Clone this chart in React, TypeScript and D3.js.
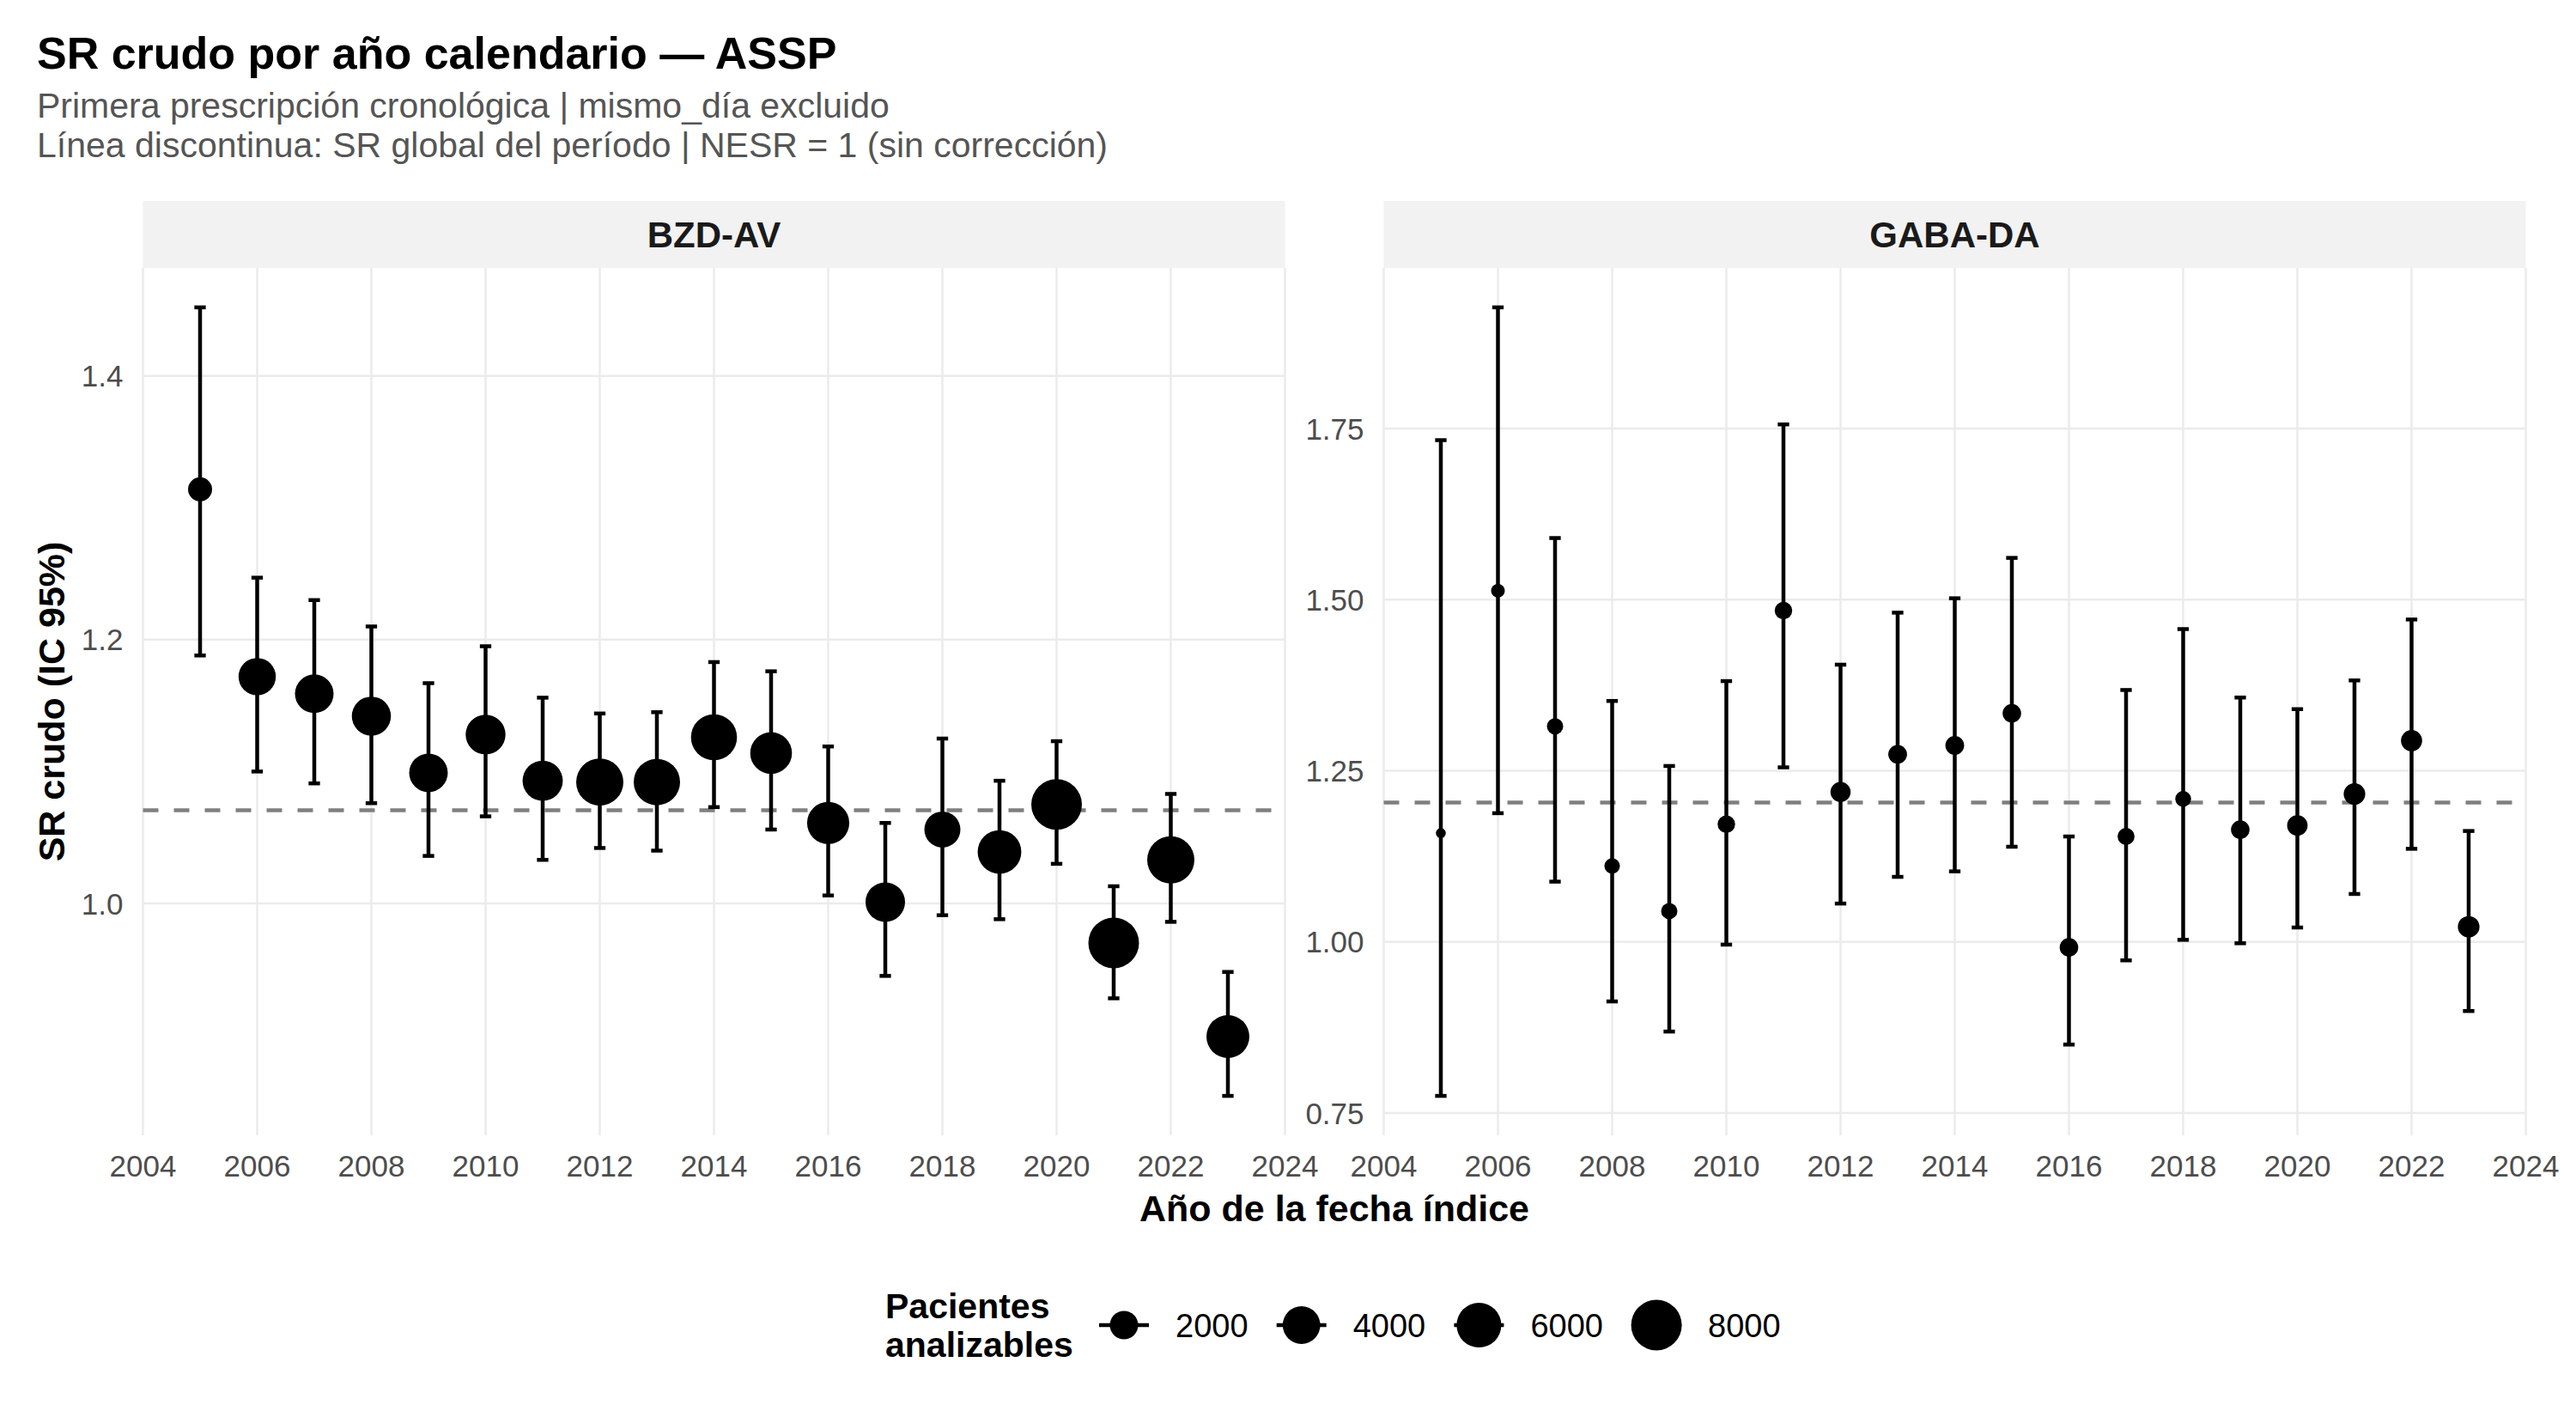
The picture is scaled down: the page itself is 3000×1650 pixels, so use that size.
import * as d3 from 'd3';
import React, { useEffect, useRef } from 'react';

// SR crudo por año
const years = [2005, 2006, 2007, 2008, 2009, 2010, 2011, 2012, 2013, 2014, 2015, 2016, 2017, 2018, 2019, 2020, 2021, 2022, 2023];

const bzdSr = [1.314, 1.172, 1.159, 1.142, 1.099, 1.128, 1.093, 1.092, 1.092, 1.126, 1.114, 1.061, 1.001, 1.056, 1.039, 1.075, 0.970, 1.033, 0.899];
const bzdLo = [1.188, 1.100, 1.091, 1.076, 1.036, 1.066, 1.033, 1.042, 1.040, 1.073, 1.056, 1.006, 0.945, 0.991, 0.988, 1.030, 0.928, 0.986, 0.854];
const bzdHi = [1.452, 1.247, 1.230, 1.210, 1.167, 1.195, 1.156, 1.144, 1.145, 1.183, 1.176, 1.119, 1.061, 1.125, 1.093, 1.123, 1.013, 1.083, 0.948];
const bzdN = [1300, 3920, 4270, 4390, 4270, 4590, 4690, 6810, 6530, 6420, 5120, 5250, 4500, 3620, 5680, 7990, 8000, 6800, 5470];

const gabaSr = [1.159, 1.513, 1.315, 1.111, 1.045, 1.172, 1.484, 1.219, 1.274, 1.287, 1.334, 0.992, 1.154, 1.209, 1.164, 1.170, 1.216, 1.294, 1.022];
const gabaLo = [0.775, 1.188, 1.088, 0.913, 0.869, 0.996, 1.255, 1.056, 1.095, 1.103, 1.139, 0.850, 0.973, 1.003, 0.998, 1.021, 1.070, 1.136, 0.899];
const gabaHi = [1.733, 1.927, 1.590, 1.352, 1.257, 1.381, 1.756, 1.405, 1.481, 1.502, 1.561, 1.154, 1.368, 1.457, 1.357, 1.340, 1.382, 1.471, 1.162];
const gabaN = [63, 240, 426, 358, 426, 531, 531, 795, 655, 655, 630, 630, 484, 385, 630, 835, 975, 920, 975];

const panelNames = ["BZD-AV", "GABA-DA"];
const globalSr = [1.0706, 1.2035];
const xTicks = [2004, 2006, 2008, 2010, 2012, 2014, 2016, 2018, 2020, 2022, 2024];
const bzdYTicks = [1.0, 1.2, 1.4];
const gabaYTicks = [0.75, 1.0, 1.25, 1.5, 1.75];
const legendValues = [2000, 4000, 6000, 8000];

const W = 3000;
const H = 1650;
const FONT = '"Liberation Sans", Arial, Helvetica, sans-serif';

const App = () => {
	const svgRef = useRef(null);

	useEffect(() => {
		const svg = d3.select(svgRef.current);
		svg.selectAll("*").remove();

		svg.append("rect").attr("width", W).attr("height", H).attr("fill", "#ffffff");

		const top = 312;
		const bottom = 1322;
		const stripTop = 234;
		const panelW = 1330;

		const panels = [
			{ name: panelNames[0], sr: bzdSr, lo: bzdLo, hi: bzdHi, n: bzdN, ref: globalSr[0], ticks: bzdYTicks, fmt: d3.format(".1f"), left: 166.5 },
			{ name: panelNames[1], sr: gabaSr, lo: gabaLo, hi: gabaHi, n: gabaN, ref: globalSr[1], ticks: gabaYTicks, fmt: d3.format(".2f"), left: 1611.5 },
		];

		const size = d3.scaleSqrt().domain([0, 8000]).range([3.5, 29.5]);

		panels.forEach((p) => {
			const x = d3.scaleLinear().domain([2004, 2024]).range([p.left, p.left + panelW]);
			const lo = d3.min(p.lo);
			const hi = d3.max(p.hi);
			const pad = (hi - lo) * 0.05;
			const y = d3.scaleLinear().domain([lo - pad, hi + pad]).range([bottom, top]);

			const g = svg.append("g");

			// strip
			g.append("rect")
				.attr("x", p.left)
				.attr("y", stripTop)
				.attr("width", panelW)
				.attr("height", top - stripTop)
				.attr("fill", "#F2F2F2");
			g.append("text")
				.attr("x", p.left + panelW / 2)
				.attr("y", 288)
				.attr("text-anchor", "middle")
				.style("font-family", FONT)
				.style("font-size", "42px")
				.style("font-weight", "bold")
				.style("fill", "#1A1A1A")
				.text(p.name);

			// grid
			g.selectAll(".gx")
				.data(xTicks)
				.join("line")
				.attr("x1", (d) => x(d))
				.attr("x2", (d) => x(d))
				.attr("y1", top)
				.attr("y2", bottom)
				.attr("stroke", "#EBEBEB")
				.attr("stroke-width", 2.5);
			g.selectAll(".gy")
				.data(p.ticks)
				.join("line")
				.attr("x1", p.left)
				.attr("x2", p.left + panelW)
				.attr("y1", (d) => y(d))
				.attr("y2", (d) => y(d))
				.attr("stroke", "#EBEBEB")
				.attr("stroke-width", 2.5);

			// axis labels
			g.selectAll(".tx")
				.data(xTicks)
				.join("text")
				.attr("x", (d) => x(d))
				.attr("y", 1370)
				.attr("text-anchor", "middle")
				.style("font-family", FONT)
				.style("font-size", "35px")
				.style("fill", "#4D4D4D")
				.text((d) => d);
			g.selectAll(".ty")
				.data(p.ticks)
				.join("text")
				.attr("x", p.left - 23)
				.attr("y", (d) => y(d))
				.attr("dy", "0.36em")
				.attr("text-anchor", "end")
				.style("font-family", FONT)
				.style("font-size", "35px")
				.style("fill", "#4D4D4D")
				.text((d) => p.fmt(d));

			// global SR
			g.append("line")
				.attr("x1", p.left)
				.attr("x2", p.left + panelW)
				.attr("y1", y(p.ref))
				.attr("y2", y(p.ref))
				.attr("stroke", "#7F7F7F")
				.attr("stroke-width", 4.5)
				.attr("stroke-dasharray", "18 18");

			const rows = years.map((yr, i) => ({ yr, sr: p.sr[i], lo: p.lo[i], hi: p.hi[i], n: p.n[i] }));
			const capW = x(2004.1) - x(2004);

			// error bars
			const bars = g.selectAll(".eb").data(rows).join("g");
			bars.append("line")
				.attr("x1", (d) => x(d.yr))
				.attr("x2", (d) => x(d.yr))
				.attr("y1", (d) => y(d.lo))
				.attr("y2", (d) => y(d.hi))
				.attr("stroke", "#000")
				.attr("stroke-width", 4.5);
			bars.append("line")
				.attr("x1", (d) => x(d.yr) - capW)
				.attr("x2", (d) => x(d.yr) + capW)
				.attr("y1", (d) => y(d.hi))
				.attr("y2", (d) => y(d.hi))
				.attr("stroke", "#000")
				.attr("stroke-width", 4.5);
			bars.append("line")
				.attr("x1", (d) => x(d.yr) - capW)
				.attr("x2", (d) => x(d.yr) + capW)
				.attr("y1", (d) => y(d.lo))
				.attr("y2", (d) => y(d.lo))
				.attr("stroke", "#000")
				.attr("stroke-width", 4.5);

			// points
			g.selectAll(".pt")
				.data(rows)
				.join("circle")
				.attr("cx", (d) => x(d.yr))
				.attr("cy", (d) => y(d.sr))
				.attr("r", (d) => size(d.n))
				.attr("fill", "#000");
		});

		// titles
		svg.append("text")
			.attr("x", 43)
			.attr("y", 80)
			.style("font-family", FONT)
			.style("font-size", "52px")
			.style("font-weight", "bold")
			.style("fill", "#000")
			.text("SR crudo por año calendario — ASSP");
		const subtitle = [
			"Primera prescripción cronológica | mismo_día excluido",
			"Línea discontinua: SR global del período | NESR = 1 (sin corrección)",
		];
		svg.selectAll(".sub")
			.data(subtitle)
			.join("text")
			.attr("x", 43)
			.attr("y", (d, i) => 137 + i * 45.5)
			.style("font-family", FONT)
			.style("font-size", "41px")
			.style("fill", "#555555")
			.text((d) => d);

		svg.append("text")
			.attr("x", (166.5 + 1611.5 + panelW) / 2)
			.attr("y", 1422)
			.attr("text-anchor", "middle")
			.style("font-family", FONT)
			.style("font-size", "43px")
			.style("font-weight", "bold")
			.style("fill", "#000")
			.text("Año de la fecha índice");

		svg.append("text")
			.attr("transform", `translate(75, ${(top + bottom) / 2}) rotate(-90)`)
			.attr("text-anchor", "middle")
			.style("font-family", FONT)
			.style("font-size", "43px")
			.style("font-weight", "bold")
			.style("fill", "#000")
			.text("SR crudo (IC 95%)");

		// legend
		const legend = svg.append("g");
		legend.selectAll(".lt")
			.data(["Pacientes", "analizables"])
			.join("text")
			.attr("x", 1031)
			.attr("y", (d, i) => 1535 + i * 45)
			.style("font-family", FONT)
			.style("font-size", "41px")
			.style("font-weight", "bold")
			.style("fill", "#000")
			.text((d) => d);

		const keyX = d3.scaleLinear().domain([0, 1]).range([1309, 1309 + 206.7]);
		const keyY = 1543;
		const keys = legend.selectAll(".lk").data(legendValues).join("g");
		keys.append("line")
			.attr("x1", (d, i) => keyX(i) - 29)
			.attr("x2", (d, i) => keyX(i) + 29)
			.attr("y1", keyY)
			.attr("y2", keyY)
			.attr("stroke", "#000")
			.attr("stroke-width", 4.5);
		keys.append("circle")
			.attr("cx", (d, i) => keyX(i))
			.attr("cy", keyY)
			.attr("r", (d) => size(d))
			.attr("fill", "#000");
		keys.append("text")
			.attr("x", (d, i) => keyX(i) + 60)
			.attr("y", 1557)
			.style("font-family", FONT)
			.style("font-size", "38px")
			.style("fill", "#000")
			.text((d) => d);

		return () => {
			d3.select(svgRef.current).selectAll("*").remove();
		};
	}, []);

	return <svg ref={svgRef} width={W} height={H} style={{ position: "absolute", left: 0, top: 0 }} />;
};

export default App;
